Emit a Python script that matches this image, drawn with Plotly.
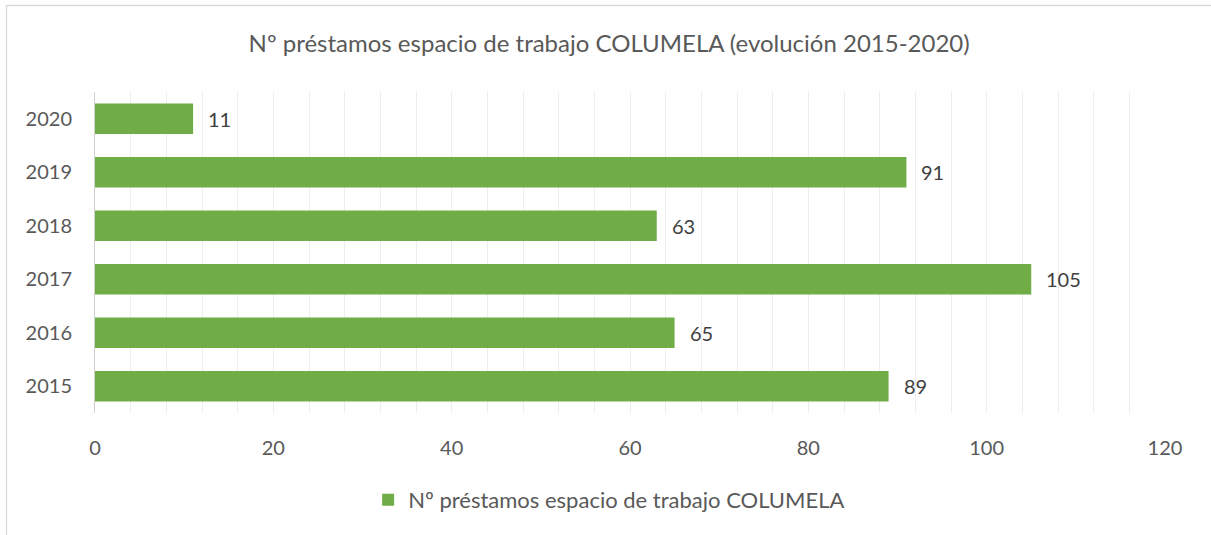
import plotly.graph_objects as go

years = ["2015", "2016", "2017", "2018", "2019", "2020"]
prestamos = [89, 65, 105, 63, 91, 11]
series_name = "Nº préstamos espacio de trabajo COLUMELA"
title_text = "Nº préstamos espacio de trabajo COLUMELA (evolución 2015-2020)"
x_ticks = [0, 20, 40, 60, 80, 100, 120]

GREEN = "#70AD47"
FONT = "Lato"
W, H = 1211, 535
ML, MR, MT, MB = 95, 46, 92, 122

fig = go.Figure()
fig.add_trace(go.Bar(
    y=years, x=prestamos, orientation="h", name=series_name,
    marker=dict(color=GREEN, line=dict(width=0)),
    width=0.57, showlegend=True,
))

for i, xv in enumerate(prestamos):
    fig.add_annotation(x=xv, y=i, text=str(xv), showarrow=False,
                       xanchor="left", xshift=13,
                       font=dict(family=FONT, size=20, color="#404040"))

pw = W - ML - MR
ph = H - MT - MB
def px2x(p):
    return (p - ML) / pw
def py2y(p):
    return (H - MB - p) / ph

# chart border (top and left visible)
fig.add_shape(type="line", xref="paper", yref="paper",
              x0=px2x(6.5), x1=px2x(W + 5), y0=py2y(5.5), y1=py2y(5.5),
              line=dict(color="#D9D9D9", width=1.3))
fig.add_shape(type="line", xref="paper", yref="paper",
              x0=px2x(6.5), x1=px2x(6.5), y0=py2y(5.5), y1=py2y(H + 5),
              line=dict(color="#D9D9D9", width=1.3))

fig.update_layout(
    width=W, height=H,
    margin=dict(l=ML, r=MR, t=MT, b=MB),
    paper_bgcolor="white", plot_bgcolor="white",
    title=dict(text=title_text, x=0.503, xref="container", xanchor="center",
               y=1 - 44 / H, yanchor="middle", yref="container",
               font=dict(family=FONT, size=24, color="#595959")),
    font=dict(family=FONT, size=20, color="#595959"),
    xaxis=dict(range=[0, 120], tickvals=x_ticks, showgrid=True,
               gridcolor="#EDEDED", gridwidth=1,
               minor=dict(dtick=4, tick0=0, showgrid=True, gridcolor="#EDEDED", gridwidth=1),
               zeroline=False, showline=False, ticks="",
               ticklabelstandoff=21,
               tickfont=dict(family=FONT, size=20, color="#595959")),
    yaxis=dict(type="category", categoryorder="array", categoryarray=years,
               range=[-0.5, 5.5], showgrid=False, zeroline=False,
               showline=True, linecolor="#D0D0D0", linewidth=1,
               ticks="", ticklabelstandoff=18,
               tickfont=dict(family=FONT, size=20, color="#595959")),
    legend=dict(orientation="h", x=0.503, xref="container", xanchor="center",
                y=1 - 500 / H, yref="container",
                yanchor="middle", font=dict(family=FONT, size=22, color="#595959"),
                itemwidth=30),
    bargap=0.43,
)

fig.write_html("out.html", config={"displayModeBar": False},
               post_script="document.body.style.margin='0';document.body.style.overflow='hidden';")
